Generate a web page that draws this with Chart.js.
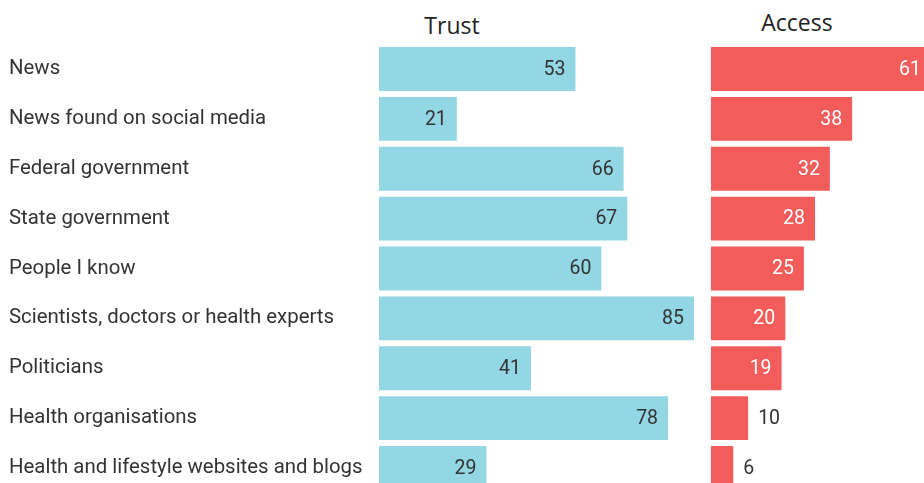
<!DOCTYPE html>
<html>
<head>
<meta charset="utf-8">
<script src="https://cdn.jsdelivr.net/npm/chart.js@4"></script>
<style>
  html, body { margin: 0; padding: 0; background: #fff; overflow: hidden; width: 924px; height: 483px; }
  #wrap { position: relative; width: 924px; height: 483px; overflow: hidden; }
  .ttl { position: absolute; font-family: "Open Sans", sans-serif; font-size: 23px; color: #222; top: 9px; transform: translateX(-50%); }
  canvas { position: absolute; top: 0; }
</style>
</head>
<body>
<div id="wrap">
  <div class="ttl" style="left:452px">Trust</div>
  <div class="ttl" style="left:797px;top:6px">Access</div>
  <canvas id="trustChart" width="700" height="493" style="left:0"></canvas>
  <canvas id="accessChart" width="271" height="493" style="left:700px"></canvas>
</div>
<script>
const sources = ['News', 'News found on social media', 'Federal government', 'State government', 'People I know',
  'Scientists, doctors or health experts', 'Politicians', 'Health organisations', 'Health and lifestyle websites and blogs']
const trustvalues = [53, 21, 66, 67, 60, 85, 41, 78, 29]
const accessvalues = [61, 38, 32, 28, 25, 20, 19, 10, 6]

// writes the number at the end of each bar, inside if it fits, outside otherwise
const valuelabels = {
  id: 'valuelabels',
  afterDatasetsDraw(chart, args, opts) {
    const ctx = chart.ctx
    const meta = chart.getDatasetMeta(0)
    const data = chart.data.datasets[0].data
    ctx.save()
    ctx.font = '19.5px Roboto'
    ctx.textBaseline = 'middle'
    meta.data.forEach((bar, i) => {
      if (data[i] >= opts.inside) {
        ctx.textAlign = 'right'
        ctx.fillStyle = opts.color
        // keep the number in view when the bar runs off the page
        ctx.fillText(data[i], Math.min(bar.x, opts.edge) - 10, bar.y + 1)
      } else {
        ctx.textAlign = 'left'
        ctx.fillStyle = '#333'
        ctx.fillText(data[i], bar.x + 10, bar.y + 1)
      }
    })
    ctx.restore()
  }
}

function makechart(id, values, colour, max, showlabels, pad, labelopts) {
  return new Chart(document.getElementById(id), {
    type: 'bar',
    data: {
      labels: sources,
      datasets: [{ data: values, backgroundColor: colour, borderWidth: 0, barPercentage: 0.88, categoryPercentage: 1 }]
    },
    options: {
      indexAxis: 'y',
      responsive: false,
      animation: false,
      layout: { padding: pad },
      plugins: { legend: { display: false }, tooltip: { enabled: false }, valuelabels: labelopts },
      scales: {
        x: { display: false, min: 0, max: max },
        y: {
          display: showlabels,
          grid: { display: false },
          border: { display: false },
          afterFit(scale) {
            scale.width = showlabels ? 370 : 0
            scale.paddingTop = 0
            scale.paddingBottom = 0
          },
          ticks: { crossAlign: 'far', padding: 0, color: '#333', font: { family: 'Roboto', size: 20.4 } }
        }
      }
    },
    plugins: [valuelabels]
  })
}

makechart('trustChart', trustvalues, '#93d6e4', 85, true, { left: 9, right: 6, top: 44, bottom: 0 }, { inside: 15, color: '#333', edge: 9999 })
makechart('accessChart', accessvalues, '#f25c5b', 70, false, { left: 11, right: 0, top: 44, bottom: 0 }, { inside: 15, color: '#fff', edge: 231 })
</script>
</body>
</html>
